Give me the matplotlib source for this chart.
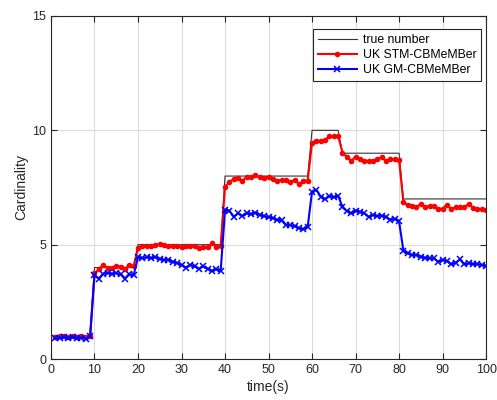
import numpy as np
import matplotlib
matplotlib.use("Agg")
import matplotlib.pyplot as plt

# =========================================================
# DATA
# =========================================================
time_s = np.arange(1, 101)

true_number = [1] * 9 + [4] * 10 + [5] * 20 + [8] * 20 + [10] * 7 + [9] * 14 + [7] * 20

stm_cbmember = [
    # t = 1..9
    0.95, 1.00, 1.00, 0.98, 1.00, 0.97, 1.00, 0.98, 1.02,
    # t = 10..19
    3.75, 3.93, 4.11, 3.97, 3.99, 4.08, 4.04, 3.94, 4.11, 4.08,
    # t = 20..39
    4.84, 4.96, 4.93, 4.95, 5.00, 5.03, 4.98, 4.92, 4.93, 4.92,
    4.90, 4.93, 4.95, 4.92, 4.85, 4.90, 4.88, 5.06, 4.90, 4.92,
    # t = 40..59
    7.53, 7.75, 7.86, 7.90, 7.80, 7.97, 7.95, 8.03, 7.95, 7.93,
    7.95, 7.85, 7.80, 7.82, 7.83, 7.75, 7.83, 7.64, 7.80, 7.80,
    # t = 60..66
    9.46, 9.55, 9.55, 9.58, 9.74, 9.75, 9.76,
    # t = 67..80
    9.02, 8.85, 8.66, 8.85, 8.75, 8.67, 8.67, 8.67, 8.73, 8.82,
    8.66, 8.76, 8.73, 8.70,
    # t = 81..100
    6.85, 6.72, 6.69, 6.66, 6.77, 6.66, 6.69, 6.69, 6.57, 6.57,
    6.75, 6.57, 6.63, 6.63, 6.63, 6.79, 6.62, 6.57, 6.54, 6.51,
]

gm_cbmember = [
    # t = 1..9
    0.90, 0.93, 0.95, 0.92, 0.95, 0.90, 0.92, 0.88, 1.00,
    # t = 10..19
    3.67, 3.52, 3.73, 3.76, 3.73, 3.76, 3.70, 3.52, 3.70, 3.67,
    # t = 20..39
    4.45, 4.42, 4.45, 4.42, 4.45, 4.38, 4.33, 4.35, 4.25, 4.20,
    4.10, 4.00, 4.12, 4.05, 3.95, 4.05, 3.95, 3.85, 3.92, 3.85,
    # t = 40..59
    6.52, 6.49, 6.22, 6.37, 6.25, 6.37, 6.33, 6.40, 6.30, 6.25,
    6.20, 6.16, 6.09, 6.06, 5.86, 5.86, 5.81, 5.71, 5.67, 5.78,
    # t = 60..66
    7.32, 7.39, 7.10, 6.98, 7.13, 7.07, 7.13,
    # t = 67..80
    6.66, 6.47, 6.37, 6.49, 6.44, 6.37, 6.22, 6.30, 6.25, 6.27,
    6.22, 6.09, 6.12, 6.02,
    # t = 81..100
    4.74, 4.62, 4.55, 4.55, 4.48, 4.43, 4.40, 4.40, 4.26, 4.33,
    4.29, 4.14, 4.21, 4.36, 4.14, 4.18, 4.15, 4.15, 4.11, 4.07,
]

x_ticks = [0, 10, 20, 30, 40, 50, 60, 70, 80, 90, 100]
y_ticks = [0, 5, 10, 15]

# =========================================================
# PLOT
# =========================================================
plt.rcParams["font.family"] = ["Liberation Sans", "DejaVu Sans"]

fig = plt.figure(figsize=(4.97, 4.0), dpi=100)
ax = fig.add_axes([0.1026, 0.1025, 0.8754, 0.8575])

ax.plot(time_s, true_number, color="#333333", lw=0.8, label="true number")
ax.plot(time_s, stm_cbmember, color=(1, 0, 0), lw=1.5, marker=".",
        markersize=6, label="UK STM-CBMeMBer")
ax.plot(time_s, gm_cbmember, color=(0, 0, 1), lw=1.5, marker="x",
        markersize=4.5, markeredgewidth=1.1, label="UK GM-CBMeMBer")

ax.set_xlim(0, 100)
ax.set_ylim(0, 15)
ax.set_xticks(x_ticks)
ax.set_yticks(y_ticks)
ax.grid(True, color="#dcdcdc", lw=0.8)
ax.set_axisbelow(True)

ax.tick_params(direction="in", top=True, right=True, length=4,
               labelsize=9, colors="#262626", width=0.8)
for sp in ax.spines.values():
    sp.set_color("#262626")
    sp.set_linewidth(0.8)

ax.set_xlabel("time(s)", fontsize=10, color="#262626", labelpad=3)
ax.set_ylabel("Cardinality", fontsize=10, color="#262626", labelpad=3)

leg = ax.legend(loc="upper right", bbox_to_anchor=(1.003, 0.98),
                fontsize=8.8, handlelength=3.2, handletextpad=0.5,
                borderpad=0.4, labelspacing=0.25, fancybox=False,
                framealpha=1)
leg.get_frame().set_edgecolor("#262626")
leg.get_frame().set_linewidth(0.8)

fig.savefig("out.png", dpi=100)
